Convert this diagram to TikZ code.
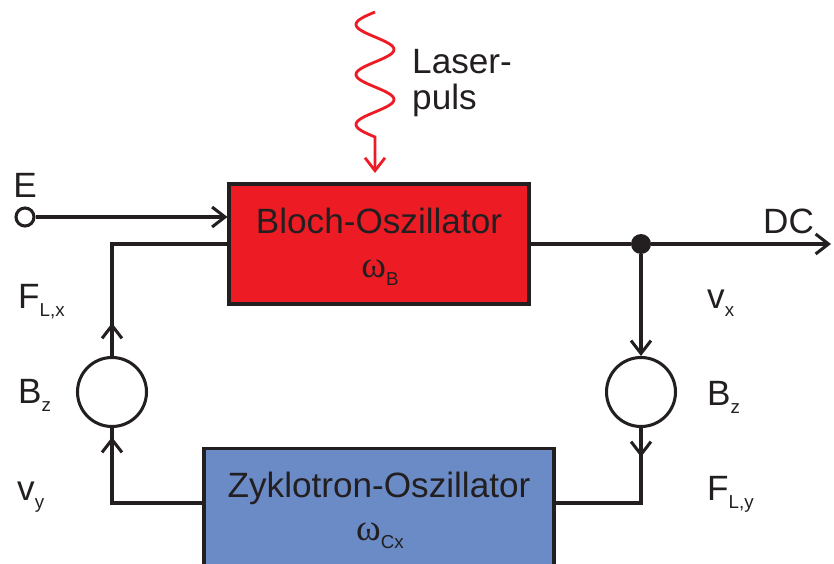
\documentclass[tikz,border=0pt]{standalone}
\usepackage{fontspec}
\setmainfont{Liberation Sans}
\newfontfamily\grk{Liberation Serif}
\usetikzlibrary{arrows.meta,decorations.markings}

\definecolor{blochrot}{HTML}{ED1C24}
\definecolor{zykblau}{HTML}{6B8BC7}
\definecolor{dunkel}{HTML}{231F20}

\newcommand{\tief}[1]{\raisebox{-7pt}{\fontsize{16}{16}\selectfont #1}}
\newcommand{\omg}{{\grk\fontsize{32}{32}\selectfont ω}}

\tikzset{
  pfeil/.tip={Straight Barb[length=11pt,width=17pt]},
  linie/.style={line width=2.6pt, draw=dunkel},
  laser/.style={line width=2.4pt, draw=blochrot, -{pfeil}},
  oszi/.style={rectangle, draw=dunkel, line width=2.6pt, inner sep=0pt},
  kreis/.style={circle, draw=dunkel, line width=2.6pt, fill=white, minimum size=2.07cm, inner sep=0pt},
  txt/.style={font=\fontsize{30}{36}\selectfont, text=dunkel, inner sep=0pt},
  mitte/.style={postaction={decorate}, decoration={markings, mark=at position #1 with {\arrow{pfeil}}}},
}

\begin{document}
\begin{tikzpicture}[x=0.03cm, y=-0.03cm]
\useasboundingbox (0,0) rectangle (834,564);
\clip (0,0) rectangle (834,564);

% Oszillatoren
\node[oszi, fill=blochrot, minimum width=9cm, minimum height=3.6cm] (bloch) at (379,244) {};
\node[oszi, fill=zykblau, minimum width=10.5cm, minimum height=4.8cm, anchor=north] (zyk) at (379,447) {};
\node[txt, anchor=base] at (379,234) {Bloch-Oszillator};
\node[txt, anchor=base] at (380,277) {\omg\tief{B}};
\node[txt, anchor=base] at (379,497) {Zyklotron-Oszillator};
\node[txt, anchor=base] at (380,540) {\omg\tief{Cx}};

% Laserpuls
\coordinate (puls) at (375,173);
\draw[laser] plot[domain=12:137, samples=80, smooth] ({375-19*sin(7.2*(\x-12))}, \x) -- (puls);
\node[txt, anchor=base west] at (412,74) {Laser-};
\node[txt, anchor=base west] at (412,110) {puls};

% Eingang E
\node[circle, draw=dunkel, line width=2.6pt, fill=white, minimum size=0.54cm, inner sep=0pt] (e) at (25,217) {};
\node[txt, anchor=base] at (25,197) {E};
\draw[linie, -{pfeil}] (e) -- (e -| bloch.west);

% Rueckkopplung links
\node[kreis] (lkreis) at (112,392) {};
\draw[linie, mitte=-0.27cm] ([yshift=-1.68cm]zyk.north west) -| (lkreis.south);
\draw[linie, mitte=0.99cm] (lkreis.north) |- (bloch.west);

% Ausgang und Rueckkopplung rechts
\node[circle, fill=dunkel, minimum size=0.6cm, inner sep=0pt] (knoten) at (641,244) {};
\node[kreis] (rkreis) at (641,392) {};
\coordinate (dc) at (831,244);
\draw[linie] (bloch.east) -- (knoten);
\draw[linie, -{pfeil}] (knoten) -- (dc);
\draw[linie, -{pfeil}] (knoten) -- (rkreis.north);
\draw[linie, mitte=0.87cm] (rkreis.south) |- ([yshift=-1.68cm]zyk.north east);

% Beschriftungen
\node[txt, anchor=base west] at (18,308) {F\tief{L,x}};
\node[txt, anchor=base west] at (18,403) {B\tief{z}};
\node[txt, anchor=base west] at (17,500) {v\tief{y}};
\node[txt, anchor=base west] at (707,308) {v\tief{x}};
\node[txt, anchor=base west] at (707,405) {B\tief{z}};
\node[txt, anchor=base west] at (707,500) {F\tief{L,y}};
\node[txt, anchor=base west] at (763,233) {DC};

\end{tikzpicture}
\end{document}
